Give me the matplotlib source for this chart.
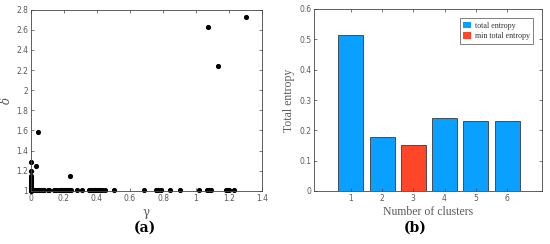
import matplotlib
matplotlib.use("Agg")
import matplotlib.pyplot as plt
from matplotlib.patches import Patch

# ---- data: panel (a) decision graph ----
gamma_low = [0.0, 0.0, 0.0, 0.0, 0.0, 0.0, 0.0, 0.0, 0.0, 0.0,
             0.01, 0.02, 0.03, 0.04, 0.05, 0.06, 0.07, 0.08, 0.10, 0.11,
             0.14, 0.15, 0.17, 0.18, 0.19, 0.20, 0.21, 0.22, 0.23, 0.24,
             0.28, 0.31, 0.35, 0.36, 0.37, 0.38, 0.39, 0.40, 0.41, 0.42,
             0.43, 0.45, 0.50, 0.685, 0.76, 0.77, 0.79, 0.84, 0.90, 1.02,
             1.065, 1.08, 1.09, 1.18, 1.19, 1.20, 1.23]
delta_low = [1.0, 1.02, 1.03, 1.05, 1.06, 1.08, 1.10, 1.12, 1.13, 1.15,
             1.005, 1.005, 1.005, 1.005, 1.005, 1.005, 1.005, 1.005, 1.005, 1.005,
             1.005, 1.005, 1.005, 1.005, 1.005, 1.005, 1.005, 1.005, 1.005, 1.005,
             1.005, 1.005, 1.005, 1.005, 1.005, 1.005, 1.005, 1.005, 1.005, 1.005,
             1.005, 1.005, 1.005, 1.005, 1.005, 1.005, 1.005, 1.005, 1.005, 1.005,
             1.005, 1.005, 1.005, 1.005, 1.005, 1.005, 1.005]
gamma_high = [0.0, 0.0, 0.028, 0.04, 0.236, 1.075, 1.135, 1.303]
delta_high = [1.29, 1.20, 1.245, 1.59, 1.146, 2.63, 2.24, 2.725]

# ---- data: panel (b) total entropy ----
clusters = [1, 2, 3, 4, 5, 6]
entropy = [0.515, 0.177, 0.151, 0.240, 0.230, 0.230]
min_idx = 2

fig = plt.figure(figsize=(5.5, 2.44), dpi=100)
gray = "#5a5a5a"
axc = "#444444"

# ---------- panel (a) ----------
ax1 = fig.add_axes([31/550, 1-191/244, (262-31)/550, (191-9.5)/244])
ax1.plot(gamma_low + gamma_high, delta_low + delta_high, 'o', color='black',
         markersize=2.7, linestyle='none', clip_on=False)
ax1.set_xlim(0, 1.4)
ax1.set_ylim(1, 2.8)
xt = [0, 0.2, 0.4, 0.6, 0.8, 1.0, 1.2, 1.4]
yt = [1, 1.2, 1.4, 1.6, 1.8, 2.0, 2.2, 2.4, 2.6, 2.8]
ax1.set_xticks(xt)
ax1.set_xticklabels(["0", "0.2", "0.4", "0.6", "0.8", "1", "1.2", "1.4"])
ax1.set_yticks(yt)
ax1.set_yticklabels(["1", "1.2", "1.4", "1.6", "1.8", "2", "2.2", "2.4", "2.6", "2.8"])
ax1.tick_params(direction='in', length=2, width=0.5, labelsize=5.5,
                colors=axc, labelcolor=gray, top=True, right=True, pad=2)
for s in ax1.spines.values():
    s.set_color(axc)
    s.set_linewidth(0.6)
ax1.set_xlabel("γ", fontsize=8.5, color=gray, family="DejaVu Serif", labelpad=2)
ax1.set_ylabel("δ", fontsize=8.5, color=gray, family="DejaVu Serif", labelpad=2,
               style='italic')

# ---------- panel (b) ----------
ax2 = fig.add_axes([314/550, 1-191/244, (541.7-314)/550, (191-9)/244])
blue = "#0AA0FF"
red = "#FF4628"
colors = [red if i == min_idx else blue for i in range(len(clusters))]
ax2.bar(clusters, entropy, width=0.8, color=colors, edgecolor="#3a3a3a",
        linewidth=0.6)
ax2.set_xlim(-0.18, 7.11)
ax2.set_ylim(0, 0.6)
ax2.set_xticks(clusters)
ax2.set_yticks([0, 0.1, 0.2, 0.3, 0.4, 0.5, 0.6])
ax2.set_yticklabels(["0", "0.1", "0.2", "0.3", "0.4", "0.5", "0.6"])
ax2.tick_params(direction='in', length=2, width=0.5, labelsize=5.5,
                colors=axc, labelcolor=gray, top=True, right=True, pad=2)
for s in ax2.spines.values():
    s.set_color(axc)
    s.set_linewidth(0.6)
ax2.set_xlabel("Number of clusters", fontsize=8.5, color=gray,
               family="Liberation Serif", labelpad=2)
ax2.set_ylabel("Total entropy", fontsize=8.5, color=gray,
               family="Liberation Serif", labelpad=3)
handles = [Patch(facecolor=blue, edgecolor='none', label="total entropy"),
           Patch(facecolor=red, edgecolor='none', label="min total entropy")]
leg = ax2.legend(handles=handles, loc='upper right',
                 prop={'family': 'Liberation Serif', 'size': 5.8},
                 frameon=True, fancybox=False, edgecolor=axc,
                 handlelength=1.0, handleheight=0.9, handletextpad=0.5,
                 borderpad=0.4, labelspacing=0.3,
                 bbox_to_anchor=(0.98, 0.97))
leg.get_frame().set_linewidth(0.6)
for t in leg.get_texts():
    t.set_color("#333333")

# captions
fig.text(145/550, 1-228/244, "(a)", ha='center', va='center', fontsize=10,
         fontweight='bold', family="DejaVu Serif")
fig.text(415/550, 1-228/244, "(b)", ha='center', va='center', fontsize=10,
         fontweight='bold', family="DejaVu Serif")

fig.savefig("out.png", dpi=100)
